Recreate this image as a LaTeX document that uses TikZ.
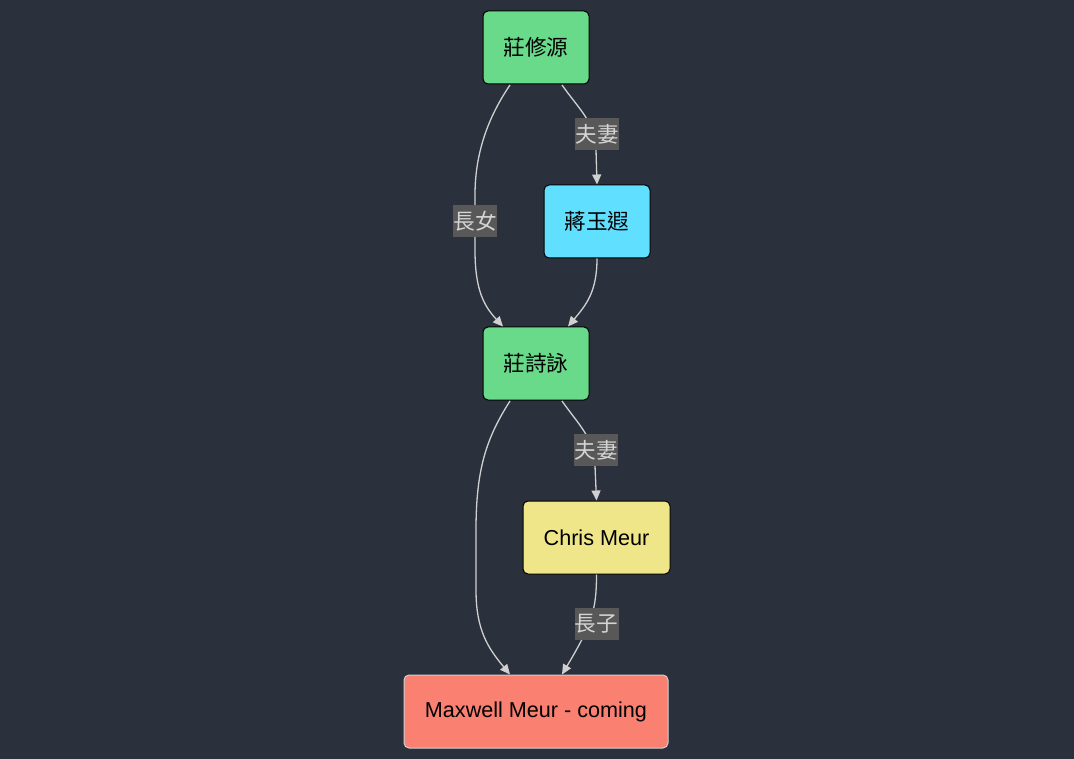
\documentclass[tikz,border=0pt]{standalone}
\usepackage{fontspec}
\setmainfont{Liberation Sans}
\newfontfamily\cjk{Noto Sans CJK TC}
\usetikzlibrary{arrows.meta,calc}
\definecolor{bg}{HTML}{2A303C}
\definecolor{greenn}{HTML}{68DA8A}
\definecolor{cyann}{HTML}{61DFFF}
\definecolor{yelln}{HTML}{EFE68A}
\definecolor{salmn}{HTML}{FA8072}
\definecolor{edgec}{HTML}{D0D0D0}
\definecolor{lblbg}{HTML}{585858}
\definecolor{lbltx}{HTML}{D4D4D4}
\tikzset{
  box/.style={draw=black, line width=1pt, rounded corners=5pt, minimum height=73pt, inner sep=0pt, text=black, font=\fontsize{21.6}{26}\selectfont},
  edge/.style={draw=edgec, line width=1.3pt, -{Triangle[length=10pt,width=9pt]}},
  lbl/.style={fill=lblbg, text=lbltx, inner sep=0pt, minimum width=44pt, minimum height=32pt, font=\fontsize{21.6}{26}\selectfont\cjk}
}
\begin{document}
\begin{tikzpicture}[x=1pt,y=-1pt]
\fill[bg] (0,0) rectangle (1074,759);
\useasboundingbox (0,0) rectangle (1074,759);
\node[box, fill=greenn, minimum width=106pt] (a) at (536,47.5) {\cjk 莊修源};
\node[box, fill=cyann, minimum width=106pt] (b) at (597,221.5) {\cjk 蔣玉遐};
\node[box, fill=greenn, minimum width=106pt] (c) at (536,363.5) {\cjk 莊詩詠};
\node[box, fill=yelln, minimum width=147pt] (d) at (596.5,537.5) {Chris Meur};
\node[box, fill=salmn, draw=edgec, minimum width=264pt] (e) at (536,711.5) {Maxwell Meur - coming};

% a -> c (長女)
\draw[edge] ($(a.south)+(-26,0.5)$) .. controls ($(a.south)+(-46,30)$) and (475,150) .. (475,195)
  -- (475,250) .. controls (475,290) and (484,306) .. ($(c.north)+(-33,0)$);
\node[lbl] (l1) at (475,221) {長女};

% a -> b (夫妻)
\draw[edge] ($(a.south)+(26,0.5)$) .. controls ($(a.south)+(44,26)$) and (595,122) .. (596,150)
  -- (b.north);
\node[lbl] (l2) at (597,134) {夫妻};

% b -> c
\draw[edge] (b.south) .. controls (597,292) and (586,305) .. ($(c.north)+(32,0)$);

% c -> d (夫妻)
\draw[edge] ($(c.south)+(26,0.5)$) .. controls ($(c.south)+(44,26)$) and (594,438) .. (595,466)
  -- (d.north);
\node[lbl] (l3) at (596,450) {夫妻};

% c -> e
\draw[edge] ($(c.south)+(-26,0.5)$) .. controls ($(c.south)+(-50,38)$) and (476,470) .. (476,530)
  -- (476,590) .. controls (476,630) and (488,648) .. ($(e.north)+(-26,0)$);

% d -> e (長子)
\draw[edge] (d.south) .. controls (596.5,610) and (592,624) .. ($(e.north)+(26,0)$);
\node[lbl] (l4) at (596.5,624) {長子};
\end{tikzpicture}
\end{document}
